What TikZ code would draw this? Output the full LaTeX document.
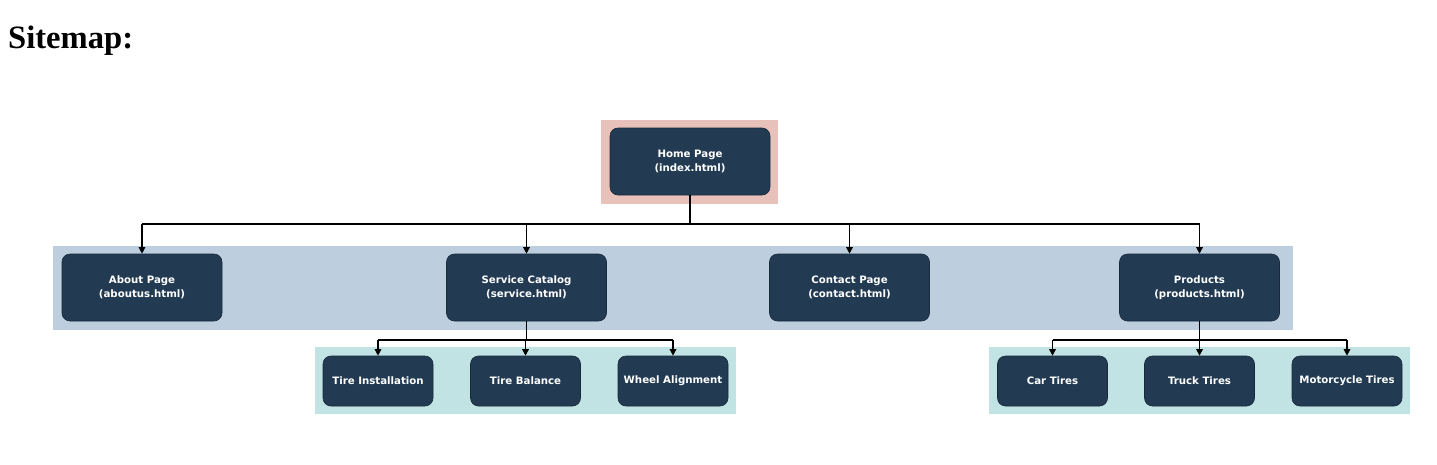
\documentclass[tikz,border=0pt]{standalone}
\usepackage{fontspec}
\setmainfont{Liberation Serif}
\newfontfamily\boxfont{DejaVu Sans}
\usetikzlibrary{arrows.meta}
\definecolor{navy}{HTML}{223B53}
\definecolor{pinkbg}{HTML}{E8C1BB}
\definecolor{bluebg}{HTML}{BDCFDF}
\definecolor{tealbg}{HTML}{C1E3E3}
\tikzset{
  page/.style={fill=navy, draw=navy!70!black, line width=0.6pt, rounded corners=8pt,
    text=white, align=center, inner sep=0pt,
    font=\boxfont\bfseries\fontsize{10.2}{13.5}\selectfont},
  big/.style={page, minimum width=160pt, minimum height=67pt},
  small/.style={page, minimum width=110pt, minimum height=50pt},
  link/.style={line width=1.3pt, black},
  arr/.style={link, -{Triangle[length=6.5pt,width=6.5pt]}}
}
\begin{document}
\begin{tikzpicture}[x=1pt,y=-1pt]
\useasboundingbox (0,0) rectangle (1437,464);
% title
\node[anchor=base west, inner sep=0pt, font=\bfseries\fontsize{32.6}{36}\selectfont] (title) at (8,48) {Sitemap:};
% bands
\fill[pinkbg] (601,120) rectangle (778,204);
\fill[bluebg] (53,246) rectangle (1293,330);
\fill[tealbg] (315,347) rectangle (736,414);
\fill[tealbg] (989,347) rectangle (1410,414);
% nodes
\node[big] (home) at (690,161.5) {Home Page\\(index.html)};
\node[big] (about) at (142,287.5) {About Page\\(aboutus.html)};
\node[big] (service) at (526.5,287.5) {Service Catalog\\(service.html)};
\node[big] (contact) at (849.5,287.5) {Contact Page\\(contact.html)};
\node[big] (products) at (1199.5,287.5) {Products\\(products.html)};
\node[small] (install) at (378,381) {Tire Installation};
\node[small] (balance) at (525.5,381) {Tire Balance};
\node[small] (wheel) at (673,381) {Wheel Alignment};
\node[small] (car) at (1052.5,381) {Car Tires};
\node[small] (truck) at (1199.5,381) {Truck Tires};
\node[small] (moto) at (1347,381) {Motorcycle Tires};
% connectors
\coordinate (j1) at (690,224);
\coordinate (j2) at (526.5,340);
\coordinate (j3) at (1199.5,340);
\draw[link] (home.south) -- (j1);
\draw[link] (about.north |- j1) -- (products.north |- j1);
\foreach \n in {about,service,contact,products} \draw[arr] (\n.north |- j1) -- (\n.north);
\draw[link] (service.south) -- (j2);
\draw[link] (install.north |- j2) -- (wheel.north |- j2);
\foreach \n in {install,balance,wheel} \draw[arr] (\n.north |- j2) -- (\n.north);
\draw[link] (products.south) -- (j3);
\draw[link] (car.north |- j3) -- (moto.north |- j3);
\foreach \n in {car,truck,moto} \draw[arr] (\n.north |- j3) -- (\n.north);
\end{tikzpicture}
\end{document}
